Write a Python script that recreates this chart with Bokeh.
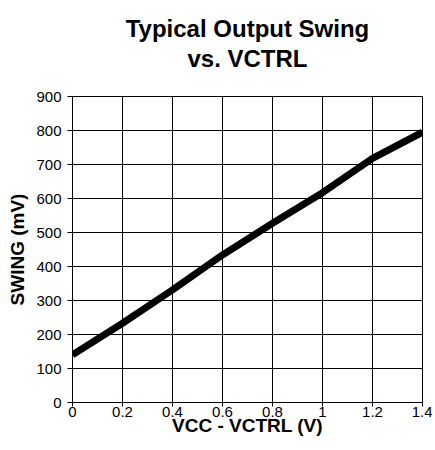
from bokeh.plotting import figure
from bokeh.models import Range1d, FixedTicker, LinearAxis, CustomJSTickFormatter
from bokeh.embed import file_html
from bokeh.resources import INLINE

# Data
vctrl = [0.0, 0.2, 0.4, 0.6, 0.8, 1.0, 1.2, 1.4]
swing = [140, 233, 331, 434, 527, 617, 718, 795]

x_ticks = [0.0, 0.2, 0.4, 0.6, 0.8, 1.0, 1.2, 1.4]
x_tick_labels = ["0", "0.2", "0.4", "0.6", "0.8", "1", "1.2", "1.4"]
y_ticks = [0, 100, 200, 300, 400, 500, 600, 700, 800, 900]
title_lines = ["Typical Output Swing", "vs. VCTRL"]

FONT = "Liberation Sans"

p = figure(width=432, height=445, output_backend="svg", toolbar_location=None,
           title=None,
           x_range=Range1d(0, 1.4), y_range=Range1d(0, 900),
           min_border_left=72, min_border_right=10, min_border_top=96, min_border_bottom=43)

p.background_fill_color = "white"
p.border_fill_color = "white"
p.outline_line_color = "black"
p.outline_line_alpha = 1.0
p.outline_line_width = 1

xa = p.below[0]
ya = p.left[0]

# two centred title lines, drawn as labels of tick-less axes above the frame
# (inner line added first so that it sits next to the frame)
for txt, standoff in zip(reversed(title_lines), [25, 0]):
    ta = LinearAxis(ticker=FixedTicker(ticks=[]), axis_label=txt,
                    axis_line_color=None, major_tick_line_color=None,
                    minor_tick_line_color=None, major_tick_out=0, major_tick_in=0,
                    major_label_standoff=0, axis_label_standoff=standoff,
                    axis_label_text_font=FONT, axis_label_text_font_size="24px",
                    axis_label_text_font_style="bold", axis_label_text_color="black")
    p.add_layout(ta, "above")

p.line(vctrl, swing, line_width=7, line_color="black", line_cap="butt", line_join="round")

# axes
xa.ticker = FixedTicker(ticks=x_ticks)
xa.formatter = CustomJSTickFormatter(
    args=dict(xt=x_ticks, xl=x_tick_labels),
    code="const i = xt.findIndex(t => Math.abs(t - tick) < 1e-9); return i >= 0 ? xl[i] : String(tick);")
ya.ticker = FixedTicker(ticks=y_ticks)

for ax in (xa, ya):
    ax.axis_line_color = "black"
    ax.axis_line_width = 1
    ax.major_tick_line_color = "black"
    ax.major_tick_in = 0
    ax.minor_tick_line_color = None
    ax.major_label_text_font = FONT
    ax.major_label_text_font_size = "15px"
    ax.major_label_text_color = "black"
    ax.axis_label_text_font = FONT
    ax.axis_label_text_font_size = "19px"
    ax.axis_label_text_font_style = "bold"
    ax.axis_label_text_color = "black"

xa.axis_label = "VCC - VCTRL (V)"
xa.major_tick_out = 4
xa.major_label_standoff = 0
xa.axis_label_standoff = -5

ya.axis_label = "SWING (mV)"
ya.major_tick_out = 5
ya.major_label_standoff = 6
ya.axis_label_standoff = 5

p.xgrid.ticker = FixedTicker(ticks=x_ticks)
p.ygrid.ticker = FixedTicker(ticks=y_ticks)
for g in (p.xgrid, p.ygrid):
    g.grid_line_color = "black"
    g.grid_line_alpha = 1.0
    g.grid_line_width = 1

open("out.html", "w").write(file_html(p, INLINE))
